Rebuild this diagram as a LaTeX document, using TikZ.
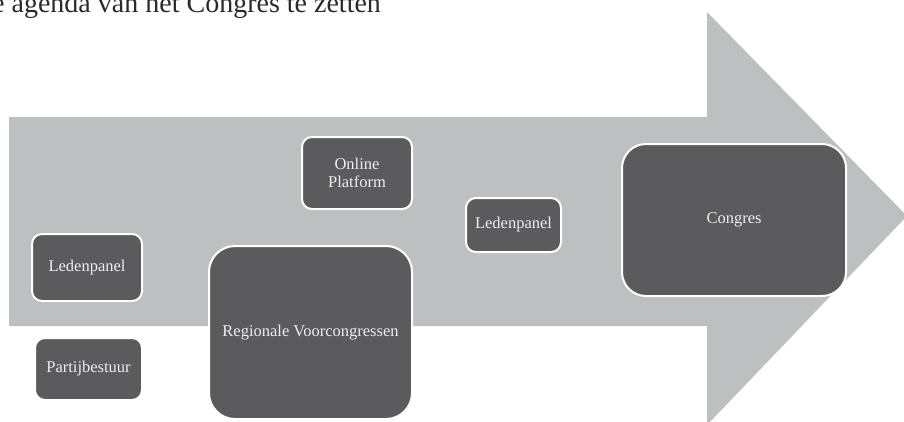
\documentclass[tikz,border=0pt]{standalone}
\usepackage{fontspec}
\setmainfont{Liberation Serif}
\definecolor{arrowgray}{HTML}{BEBFC1}
\definecolor{boxgray}{HTML}{5B5B5E}
\definecolor{boxtext}{HTML}{EEEEEE}
\definecolor{captiontext}{HTML}{2A2A2A}
\begin{document}
\begin{tikzpicture}[x=1pt,y=-1pt,
  stagebox/.style={fill=boxgray, draw=white, line width=2pt, rounded corners=10pt,
    text=boxtext, align=center, inner sep=2pt, font=\fontsize{16.5}{18}\selectfont},
  bigbox/.style={stagebox, rounded corners=26pt}]
\clip (0,0) rectangle (904,421);
\fill[white] (0,0) rectangle (904,421);
% caption line (cut at the top)
\node[anchor=base west, inner sep=0pt, text=captiontext,
  font=\fontsize{28}{32}\selectfont] (caption) at (-8,12) {e agenda van het Congres te zetten};
% big arrow
\fill[arrowgray] (9,117) -- (707,117) -- (707,12) -- (907,216) -- (707,425) -- (707,326) -- (9,326) -- cycle;
% stages
\node[stagebox, minimum width=110pt, minimum height=67pt] (led1) at (87,267.5) {Ledenpanel};
\node[stagebox, minimum width=107pt, minimum height=62pt] (partij) at (88.5,369) {Partijbestuur};
\node[bigbox, minimum width=203pt, minimum height=173pt] (regio) at (310.5,332.5) {Regionale Voorcongressen};
\node[stagebox, minimum width=110pt, minimum height=72pt] (online) at (357,173) {Online\\Platform};
\node[stagebox, minimum width=95pt, minimum height=54pt] (led2) at (513.5,225) {Ledenpanel};
\node[bigbox, rounded corners=24pt, minimum width=224pt, minimum height=152pt] (congres) at (734,220) {Congres};
\end{tikzpicture}
\end{document}
